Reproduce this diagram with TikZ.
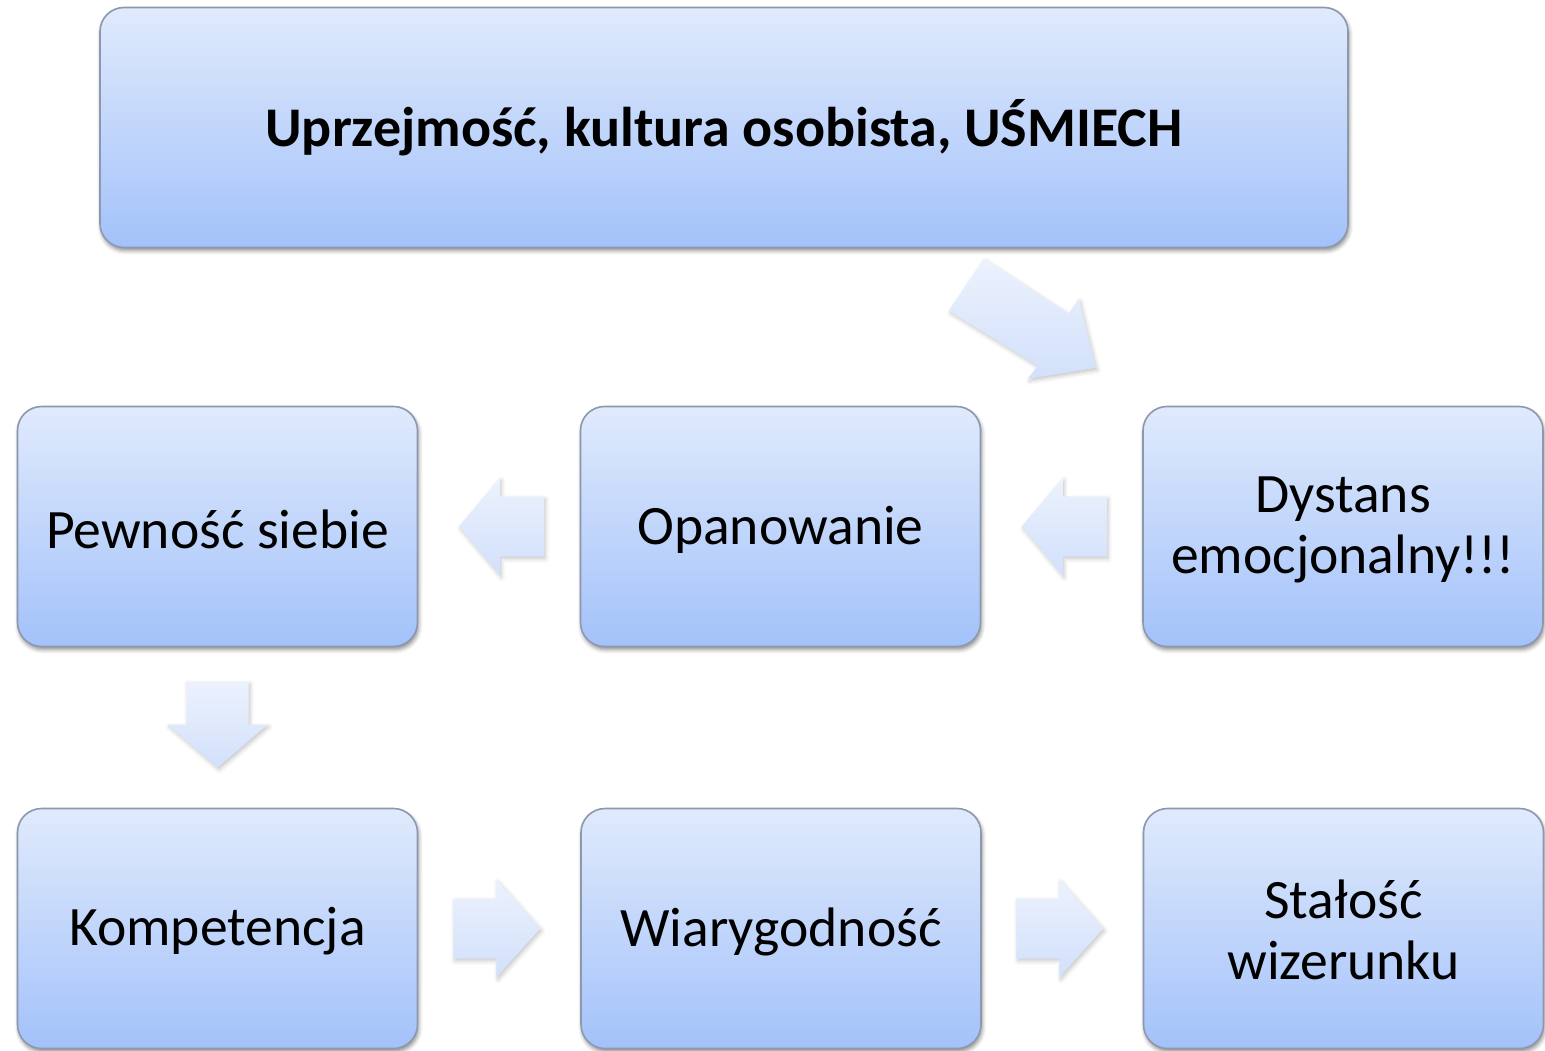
\documentclass[tikz,border=0pt]{standalone}
\usepackage{fontspec}
\setmainfont{Carlito}
\usetikzlibrary{calc,shadows.blur}

\definecolor{boxtop}{HTML}{E0EAFC}
\definecolor{boxbot}{HTML}{A3C2FA}
\definecolor{boxline}{HTML}{8C98AE}
\definecolor{arrtop}{HTML}{ECF2FD}
\definecolor{arrbot}{HTML}{D2E0FB}

\tikzset{
  stage/.style={draw=boxline, line width=0.8pt, rounded corners=12pt,
    top color=boxtop, bottom color=boxbot,
    minimum width=200pt, minimum height=120pt, inner sep=0pt,
    blur shadow={shadow xshift=0.6pt, shadow yshift=-1.6pt,
      shadow blur radius=2pt, shadow opacity=45}},
  caption/.style={align=center, text=black, inner sep=0pt,
    font=\fontsize{27.8}{30.5}\selectfont},
  flow/.style={top color=arrtop, bottom color=arrbot,
    blur shadow={shadow xshift=0.8pt, shadow yshift=-1.2pt,
      shadow blur radius=2pt, shadow opacity=22}}
}

% block arrows drawn around a centre coordinate (units: 0.5pt, y downwards)
\newcommand\flowleft[1]{\path[flow] ($(#1)+(-42,0)$) -- ++(41,-49) -- ++(0,19)
  -- ++(44,0) -- ++(0,60) -- ++(-44,0) -- ++(0,19) -- cycle;}
\newcommand\flowright[1]{\path[flow] ($(#1)+(44,0)$) -- ++(-44,-49) -- ++(0,19)
  -- ++(-43,0) -- ++(0,60) -- ++(43,0) -- ++(0,19) -- cycle;}
\newcommand\flowdown[1]{\path[flow] ($(#1)+(0,43)$) -- ++(-50,-43) -- ++(19,0)
  -- ++(0,-43) -- ++(62,0) -- ++(0,43) -- ++(19,0) -- cycle;}

\begin{document}
\begin{tikzpicture}[x=0.5pt,y=-0.5pt]
\useasboundingbox (0,0) rectangle (1545,1050);

% stage boxes
\node[stage, minimum width=624pt] (head) at (724,127.5) {};
\node[stage] (pew)  at (217.5,526.5)  {};
\node[stage] (opan) at (780.5,526.5)  {};
\node[stage] (dyst) at (1343,526.5)   {};
\node[stage] (komp) at (217.5,928.5)  {};
\node[stage] (wiar) at (781,928.5)    {};
\node[stage] (stal) at (1343.5,928.5) {};

% stage captions
\node[caption, font=\fontsize{28}{30.5}\selectfont\bfseries] (head-t) at (head)
  {Uprzejmość, kultura osobista, UŚMIECH};
\node[caption] (pew-t)  at ([yshift=-1.5pt]pew.center)  {Pewność siebie};
\node[caption] (opan-t) at ([yshift=-1.5pt]opan.center) {Opanowanie};
\node[caption] (dyst-t) at ([yshift=-1.8pt]dyst.center) {Dystans\\emocjonalny!!!};
\node[caption] (komp-t) at ([yshift=-1.5pt]komp.center) {Kompetencja};
\node[caption] (wiar-t) at ([yshift=-1.5pt]wiar.center) {Wiarygodność};
\node[caption] (stal-t) at ([yshift=-0.5pt]stal.center) {Stałość\\wizerunku};

% arrow positions between the stages
\coordinate (d)  at ($(head.south east)+(-326,70.5)$);
\coordinate (a1) at ($(opan.east)!0.5!(dyst.west)+(2,0)$);
\coordinate (a2) at ($(pew.east)!0.5!(opan.west)+(2,0)$);
\coordinate (a3) at ($(pew.south)!0.5!(komp.north)+(0,-3)$);
\coordinate (a4) at ($(komp.east)!0.5!(wiar.west)+(-3,0)$);
\coordinate (a5) at ($(wiar.east)!0.5!(stal.west)+(-3,0)$);

\path[flow] ($(d)+(-74,-8)$) -- ($(d)+(-39,-60)$) -- ($(d)+(46,-5)$)
  -- ($(d)+(56,-20)$) -- ($(d)+(73,49)$) -- ($(d)+(5,60)$)
  -- ($(d)+(15,47)$) -- cycle;
\flowleft{a1}
\flowleft{a2}
\flowdown{a3}
\flowright{a4}
\flowright{a5}
\end{tikzpicture}
\end{document}
